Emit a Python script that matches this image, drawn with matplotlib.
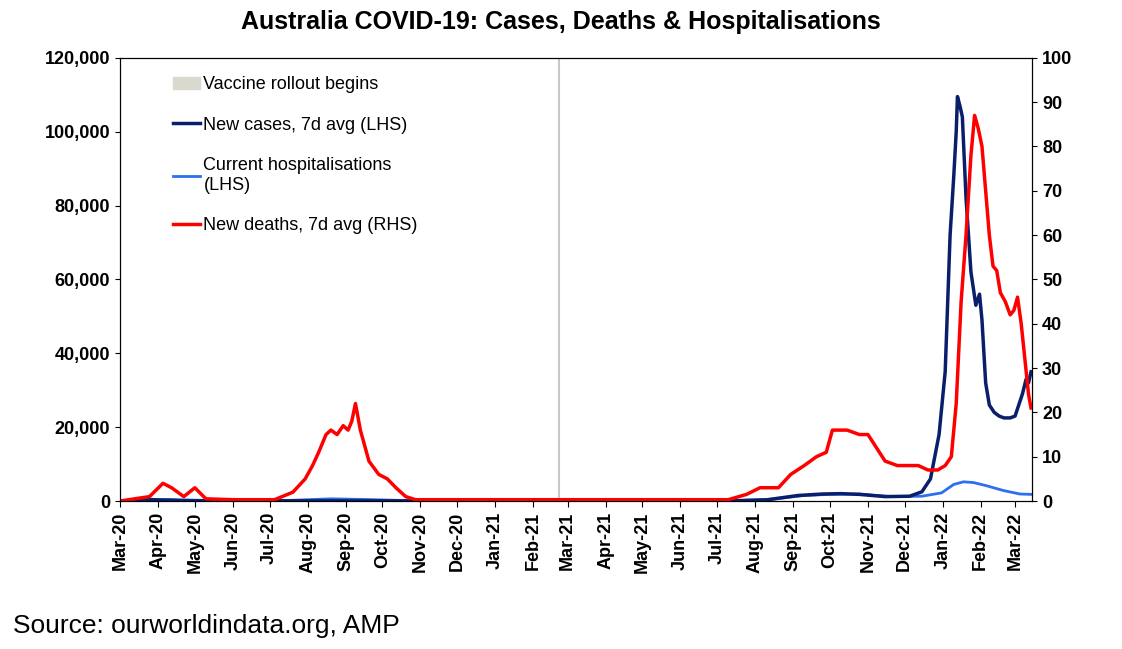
import numpy as np
import pandas as pd
import matplotlib.pyplot as plt
import matplotlib.dates as mdates
from matplotlib.patches import Patch
from matplotlib.lines import Line2D
from matplotlib.ticker import FuncFormatter

plt.rcParams['font.family'] = ['Liberation Sans', 'DejaVu Sans']

# new cases, 7d avg (LHS)
case_dates = ['2020-03-01', '2020-03-25', '2020-04-20', '2021-06-01', '2021-07-15', '2021-08-10',
              '2021-09-05', '2021-09-25', '2021-10-10', '2021-10-25', '2021-11-15', '2021-12-05',
              '2021-12-15', '2021-12-22', '2021-12-29', '2022-01-03', '2022-01-07', '2022-01-10',
              '2022-01-12', '2022-01-13', '2022-01-15', '2022-01-17', '2022-01-20', '2022-01-24',
              '2022-01-28', '2022-01-31', '2022-02-02', '2022-02-05', '2022-02-08', '2022-02-12',
              '2022-02-16', '2022-02-20', '2022-02-25', '2022-03-01', '2022-03-04', '2022-03-07',
              '2022-03-10', '2022-03-12', '2022-03-14']
cases = [0, 400, 50, 20, 80, 300, 1500, 1900, 2000, 1800, 1200, 1300,
         2500, 6000, 18000, 35000, 72000, 88000, 100000, 109500, 107000, 104000, 82000, 62000,
         53000, 56000, 49000, 32000, 26000, 24000, 23000, 22500, 22500, 23000, 26000, 29000,
         33000, 32000, 35000]

# current hospitalisations (LHS)
hosp_dates = ['2020-03-01', '2020-04-10', '2020-05-15', '2020-07-15', '2020-08-20', '2020-09-20',
              '2020-10-25', '2021-07-10', '2021-08-15', '2021-09-10', '2021-10-01', '2021-10-25',
              '2021-11-20', '2021-12-15', '2021-12-31', '2022-01-10', '2022-01-18', '2022-01-26',
              '2022-02-05', '2022-02-20', '2022-03-05', '2022-03-14']
hosp = [0, 450, 100, 150, 600, 400, 80, 50, 500, 1500, 1800, 1900,
        1200, 1300, 2200, 4500, 5200, 5000, 4200, 2800, 1900, 1800]

# new deaths, 7d avg (RHS)
death_dates = ['2020-03-01', '2020-03-25', '2020-04-05', '2020-04-12', '2020-04-22', '2020-05-01',
               '2020-05-10', '2020-06-01', '2020-07-05', '2020-07-20', '2020-07-30', '2020-08-05',
               '2020-08-10', '2020-08-16', '2020-08-20', '2020-08-25', '2020-08-30', '2020-09-03',
               '2020-09-06', '2020-09-09', '2020-09-13', '2020-09-20', '2020-09-28', '2020-10-05',
               '2020-10-12', '2020-10-20', '2020-10-28', '2021-07-10', '2021-07-25', '2021-08-05',
               '2021-08-20', '2021-08-30', '2021-09-10', '2021-09-20', '2021-09-28', '2021-10-03',
               '2021-10-15', '2021-10-25', '2021-11-01', '2021-11-08', '2021-11-15', '2021-11-25',
               '2021-12-05', '2021-12-12', '2021-12-20', '2021-12-28', '2022-01-03', '2022-01-08',
               '2022-01-12', '2022-01-16', '2022-01-20', '2022-01-24', '2022-01-27', '2022-01-30',
               '2022-02-02', '2022-02-05', '2022-02-08', '2022-02-11', '2022-02-14', '2022-02-17',
               '2022-02-21', '2022-02-25', '2022-02-28', '2022-03-03', '2022-03-06', '2022-03-09',
               '2022-03-12', '2022-03-14']
deaths = [0, 1, 4, 3, 1, 3, 0.5, 0.3, 0.3, 2, 5, 8,
          11, 15, 16, 15, 17, 16, 18, 22, 16, 9, 6, 5,
          3, 1, 0.3, 0.3, 1.5, 3, 3, 6, 8, 10, 11, 16,
          16, 15, 15, 12, 9, 8, 8, 8, 7, 7, 8, 10,
          22, 45, 60, 78, 87, 84, 80, 70, 60, 53, 52, 47,
          45, 42, 43, 46, 40, 32, 24, 21]

start, end = pd.Timestamp('2020-03-01'), pd.Timestamp('2022-03-15')

fig, ax = plt.subplots(figsize=(11.22, 6.49), dpi=100)
fig.subplots_adjust(left=0.107, right=0.92, top=0.911, bottom=0.228)
ax2 = ax.twinx()

ax.axvline(pd.Timestamp('2021-02-22'), color='#c8c8c8', lw=1.5)
ax.plot(pd.to_datetime(hosp_dates), hosp, color='#2e6ef0', lw=2)
ax.plot(pd.to_datetime(case_dates), cases, color='#0a1f6b', lw=2.5)
ax2.plot(pd.to_datetime(death_dates), deaths, color='#ff0000', lw=2.5)

ax.set_xlim(start, end)
ax.set_ylim(0, 120000)
ax2.set_ylim(0, 100)
ax.set_yticks(range(0, 120001, 20000))
ax2.set_yticks(range(0, 101, 10))
ax.yaxis.set_major_formatter(FuncFormatter(lambda v, p: f'{int(v):,}'))
ax.xaxis.set_major_locator(mdates.MonthLocator())
ax.xaxis.set_major_formatter(mdates.DateFormatter('%b-%y'))
for lab in ax.get_xticklabels():
    lab.set_rotation(90)
ax.tick_params(axis='x', labelsize=13, length=4)
ax.tick_params(axis='y', labelsize=13)
ax2.tick_params(axis='y', labelsize=13)
for t in ax.get_yticklabels() + ax2.get_yticklabels() + ax.get_xticklabels():
    t.set_fontweight('bold')

handles = [Patch(color='#d9d9d0', label='Vaccine rollout begins'),
           Line2D([], [], color='#0a1f6b', lw=2.5, label='New cases, 7d avg (LHS)'),
           Line2D([], [], color='#2e6ef0', lw=2, label='Current hospitalisations\n(LHS)'),
           Line2D([], [], color='#ff0000', lw=2.5, label='New deaths, 7d avg (RHS)')]
ax.legend(handles=handles, loc='upper left', bbox_to_anchor=(0.04, 0.995), frameon=False,
          fontsize=13, labelspacing=1.3, handlelength=1.5, handletextpad=0.2)

fig.suptitle('Australia COVID-19: Cases, Deaths & Hospitalisations', fontsize=18,
             fontweight='heavy', x=0.5, y=0.985)
fig.text(0.012, 0.025, 'Source: ourworldindata.org, AMP', fontsize=19)

fig.savefig('out.png')
